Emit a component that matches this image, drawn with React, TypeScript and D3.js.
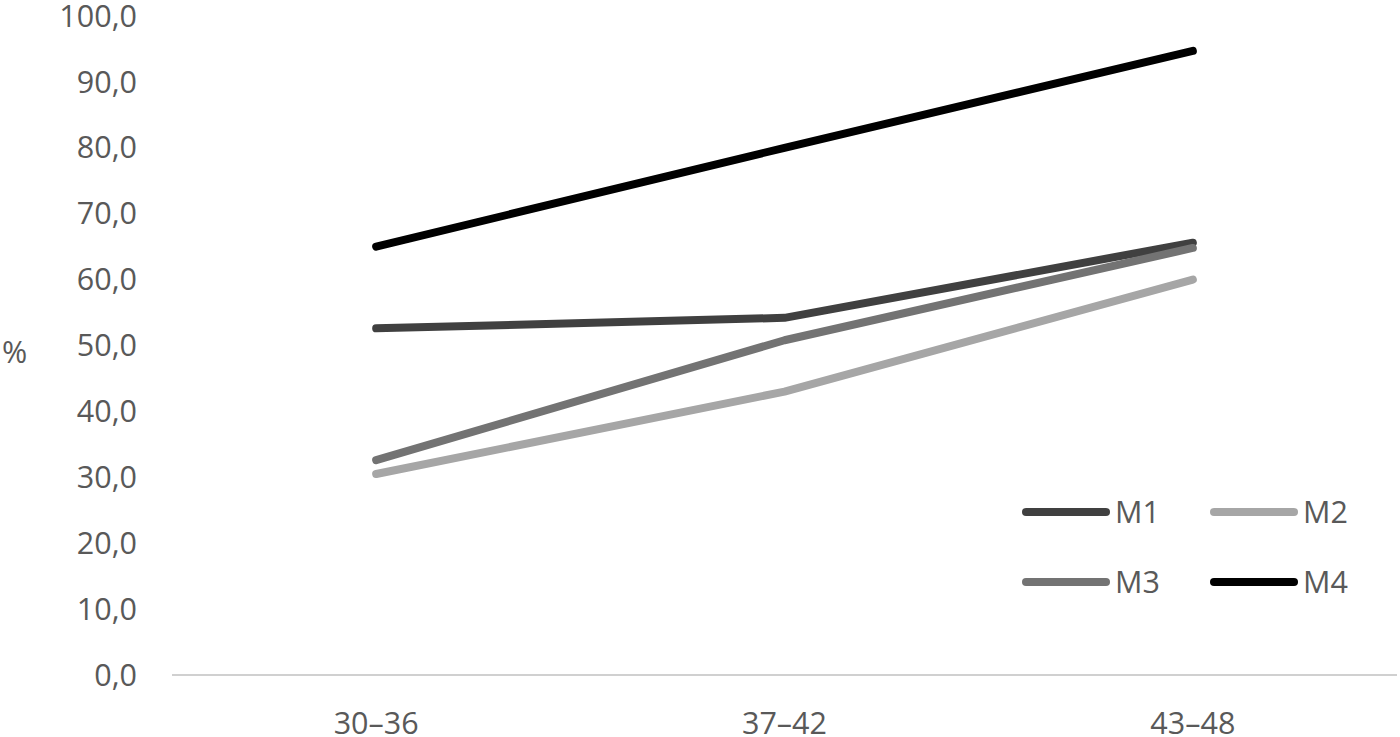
import React from "react";
import * as d3 from "d3";

const categories = ["30–36", "37–42", "43–48"];
const seriesNames = ["M1", "M2", "M3", "M4"];
const m1 = [52.6, 54.2, 65.6];
const m2 = [30.5, 43.0, 60.0];
const m3 = [32.6, 50.8, 64.8];
const m4 = [65.0, 80.0, 94.7];
const yTicks = [0, 10, 20, 30, 40, 50, 60, 70, 80, 90, 100];
const colors = ["#404040", "#a6a6a6", "#737373", "#000000"];

const W = 1400;
const H = 737;
const FONT = "'Open Sans', 'DejaVu Sans', sans-serif";

export default function App() {
  const x = d3.scaleBand<string>().domain(categories).range([172, 1397]);
  const y = d3.scaleLinear().domain([0, 100]).range([675, 16]);
  const line = d3
    .line<number>()
    .x((_, i) => (x(categories[i]) as number) + x.bandwidth() / 2)
    .y((d) => y(d));
  const series = [m1, m2, m3, m4];
  const fmt = (v: number) => v.toFixed(1).replace(".", ",");
  const legendPos = [
    { x: 1022, y: 512 },
    { x: 1210, y: 512 },
    { x: 1022, y: 582 },
    { x: 1210, y: 582 },
  ];
  return (
    <div style={{ position: "absolute", left: 0, top: 0 }}>
      <svg width={W} height={H} style={{ display: "block", background: "#fff" }}>
        <line x1={172} x2={1397} y1={y(0)} y2={y(0)} stroke="#d0d0d0" strokeWidth={2} />
        {yTicks.map((t) => (
          <text
            key={t}
            x={137}
            y={y(t)}
            dy="0.35em"
            textAnchor="end"
            fontFamily={FONT}
            fontSize={30.5}
            fill="#595959"
          >
            {fmt(t)}
          </text>
        ))}
        <text x={2} y={352} dy="0.35em" fontFamily={FONT} fontSize={30.5} fill="#595959">
          %
        </text>
        {categories.map((c) => (
          <text
            key={c}
            x={(x(c) as number) + x.bandwidth() / 2}
            y={734}
            textAnchor="middle"
            fontFamily={FONT}
            fontSize={30.5}
            fill="#595959"
          >
            {c}
          </text>
        ))}
        {series.map((s, i) => (
          <path
            key={seriesNames[i]}
            d={line(s) || ""}
            fill="none"
            stroke={colors[i]}
            strokeWidth={8}
            strokeLinecap="round"
            strokeLinejoin="round"
          />
        ))}
        {seriesNames.map((n, i) => (
          <g key={n}>
            <line
              x1={legendPos[i].x + 4}
              x2={legendPos[i].x + 84}
              y1={legendPos[i].y}
              y2={legendPos[i].y}
              stroke={colors[i]}
              strokeWidth={8}
              strokeLinecap="round"
            />
            <text
              x={legendPos[i].x + 93}
              y={legendPos[i].y}
              dy="0.35em"
              fontFamily={FONT}
              fontSize={30.5}
              fill="#595959"
            >
              {n}
            </text>
          </g>
        ))}
      </svg>
    </div>
  );
}
